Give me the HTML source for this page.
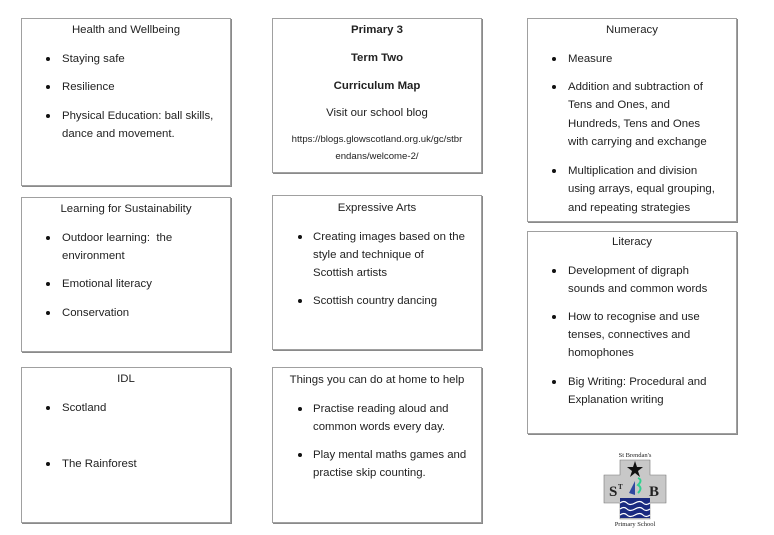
<!DOCTYPE html>
<html><head><meta charset="utf-8"><style>
body{margin:0;width:774px;height:535px;background:#fff;position:relative;overflow:hidden;font-family:"Liberation Sans",sans-serif;font-size:11.4px;color:#222;}
.b{position:absolute;border:1px solid #a0a0a0;box-shadow:1px 1px 0 #8a8a8a;background:#fff;box-sizing:border-box}
.t{position:absolute;line-height:16px;white-space:nowrap;}
.c{text-align:center}
.d{position:absolute;width:4px;height:4px;border-radius:50%;background:#111}
</style></head><body>
<div class="b" style="left:21px;top:18px;width:210px;height:168px"></div>
<div class="b" style="left:21px;top:197px;width:210px;height:155px"></div>
<div class="b" style="left:21px;top:367px;width:210px;height:156px"></div>
<div class="b" style="left:272px;top:18px;width:210px;height:155px"></div>
<div class="b" style="left:272px;top:195px;width:210px;height:155px"></div>
<div class="b" style="left:272px;top:367px;width:210px;height:156px"></div>
<div class="b" style="left:527px;top:18px;width:210px;height:204px"></div>
<div class="b" style="left:527px;top:231px;width:210px;height:203px"></div>

<!-- Health -->
<div class="t c" style="left:21px;width:210px;top:22px">Health and Wellbeing</div>
<div class="d" style="left:46px;top:57px"></div><div class="t" style="left:62px;top:51px">Staying safe</div>
<div class="d" style="left:46px;top:85px"></div><div class="t" style="left:62px;top:79px">Resilience</div>
<div class="d" style="left:46px;top:114px"></div><div class="t" style="left:62px;top:108px">Physical Education: ball skills,</div>
<div class="t" style="left:62px;top:126px">dance and movement.</div>

<!-- LfS -->
<div class="t c" style="left:21px;width:210px;top:201px">Learning for Sustainability</div>
<div class="d" style="left:46px;top:236px"></div><div class="t" style="left:62px;top:230px">Outdoor learning:&nbsp; the</div>
<div class="t" style="left:62px;top:248px">environment</div>
<div class="d" style="left:46px;top:282px"></div><div class="t" style="left:62px;top:276px">Emotional literacy</div>
<div class="d" style="left:46px;top:311px"></div><div class="t" style="left:62px;top:305px">Conservation</div>

<!-- IDL -->
<div class="t c" style="left:21px;width:210px;top:371px">IDL</div>
<div class="d" style="left:46px;top:406px"></div><div class="t" style="left:62px;top:400px">Scotland</div>
<div class="d" style="left:46px;top:462px"></div><div class="t" style="left:62px;top:456px">The Rainforest</div>

<!-- Title -->
<div class="t c" style="left:272px;width:210px;top:22px;font-weight:bold">Primary 3</div>
<div class="t c" style="left:272px;width:210px;top:50px;font-weight:bold">Term Two</div>
<div class="t c" style="left:272px;width:210px;top:78px;font-weight:bold">Curriculum Map</div>
<div class="t c" style="left:272px;width:210px;top:105px">Visit our school blog</div>
<div class="t c" style="left:272px;width:210px;top:132px;font-size:9.6px">https://blogs.glowscotland.org.uk/gc/stbr</div>
<div class="t c" style="left:272px;width:210px;top:149px;font-size:9.6px">endans/welcome-2/</div>

<!-- Expressive -->
<div class="t c" style="left:272px;width:210px;top:200px">Expressive Arts</div>
<div class="d" style="left:298px;top:235px"></div><div class="t" style="left:313px;top:229px">Creating images based on the</div>
<div class="t" style="left:313px;top:247px">style and technique of</div>
<div class="t" style="left:313px;top:265px">Scottish artists</div>
<div class="d" style="left:298px;top:299px"></div><div class="t" style="left:313px;top:293px">Scottish country dancing</div>

<!-- Things -->
<div class="t c" style="left:272px;width:210px;top:372px">Things you can do at home to help</div>
<div class="d" style="left:298px;top:407px"></div><div class="t" style="left:313px;top:401px">Practise reading aloud and</div>
<div class="t" style="left:313px;top:419px">common words every day.</div>
<div class="d" style="left:298px;top:453px"></div><div class="t" style="left:313px;top:447px">Play mental maths games and</div>
<div class="t" style="left:313px;top:465px">practise skip counting.</div>

<!-- Numeracy -->
<div class="t c" style="left:527px;width:210px;top:22px">Numeracy</div>
<div class="d" style="left:552px;top:57px"></div><div class="t" style="left:568px;top:51px">Measure</div>
<div class="d" style="left:552px;top:85px"></div><div class="t" style="left:568px;top:79px">Addition and subtraction of</div>
<div class="t" style="left:568px;top:97px">Tens and Ones, and</div>
<div class="t" style="left:568px;top:116px">Hundreds, Tens and Ones</div>
<div class="t" style="left:568px;top:134px">with carrying and exchange</div>
<div class="d" style="left:552px;top:169px"></div><div class="t" style="left:568px;top:163px">Multiplication and division</div>
<div class="t" style="left:568px;top:181px">using arrays, equal grouping,</div>
<div class="t" style="left:568px;top:200px">and repeating strategies</div>

<!-- Literacy -->
<div class="t c" style="left:527px;width:210px;top:234px">Literacy</div>
<div class="d" style="left:552px;top:269px"></div><div class="t" style="left:568px;top:263px">Development of digraph</div>
<div class="t" style="left:568px;top:281px">sounds and common words</div>
<div class="d" style="left:552px;top:315px"></div><div class="t" style="left:568px;top:309px">How to recognise and use</div>
<div class="t" style="left:568px;top:327px">tenses, connectives and</div>
<div class="t" style="left:568px;top:345px">homophones</div>
<div class="d" style="left:552px;top:380px"></div><div class="t" style="left:568px;top:374px">Big Writing: Procedural and</div>
<div class="t" style="left:568px;top:392px">Explanation writing</div>

<!-- Logo -->
<svg style="position:absolute;left:580px;top:440px" width="110" height="90" viewBox="0 0 110 90">
<text x="55" y="17" font-family="Liberation Serif" font-size="6.5" text-anchor="middle" fill="#222">St Brendan's</text>
<path d="M40 20h30v15h16v28h-16v16h-30v-16h-16v-28h16z" fill="#c8c8c8" stroke="#777" stroke-width="0.6"/>
<polygon points="55,21 57,27 63,27 58,31 60,37 55,33 50,37 52,31 47,27 53,27" fill="#111"/>
<text x="29" y="56" font-family="Liberation Serif" font-size="15" font-weight="bold" fill="#222">S</text>
<text x="38" y="49" font-family="Liberation Serif" font-size="7" font-weight="bold" fill="#222">T</text>
<text x="69" y="56" font-family="Liberation Serif" font-size="15" font-weight="bold" fill="#222">B</text>
<path d="M49 53l6-12v14z" fill="#3048a0"/>
<path d="M58 38q5 2 0 7q5 3 0 8" stroke="#30d090" stroke-width="2" fill="none"/>
<rect x="40" y="58" width="30" height="20" fill="#1a2a80"/>
<path d="M40 63q4-3 7 0t8 0t8 0t7 0M40 69q4-3 7 0t8 0t8 0t7 0M40 75q4-3 7 0t8 0t8 0t7 0" stroke="#fff" stroke-width="1.2" fill="none"/>
<text x="55" y="86" font-family="Liberation Serif" font-size="6.5" text-anchor="middle" fill="#222">Primary School</text>
</svg>
</body></html>
